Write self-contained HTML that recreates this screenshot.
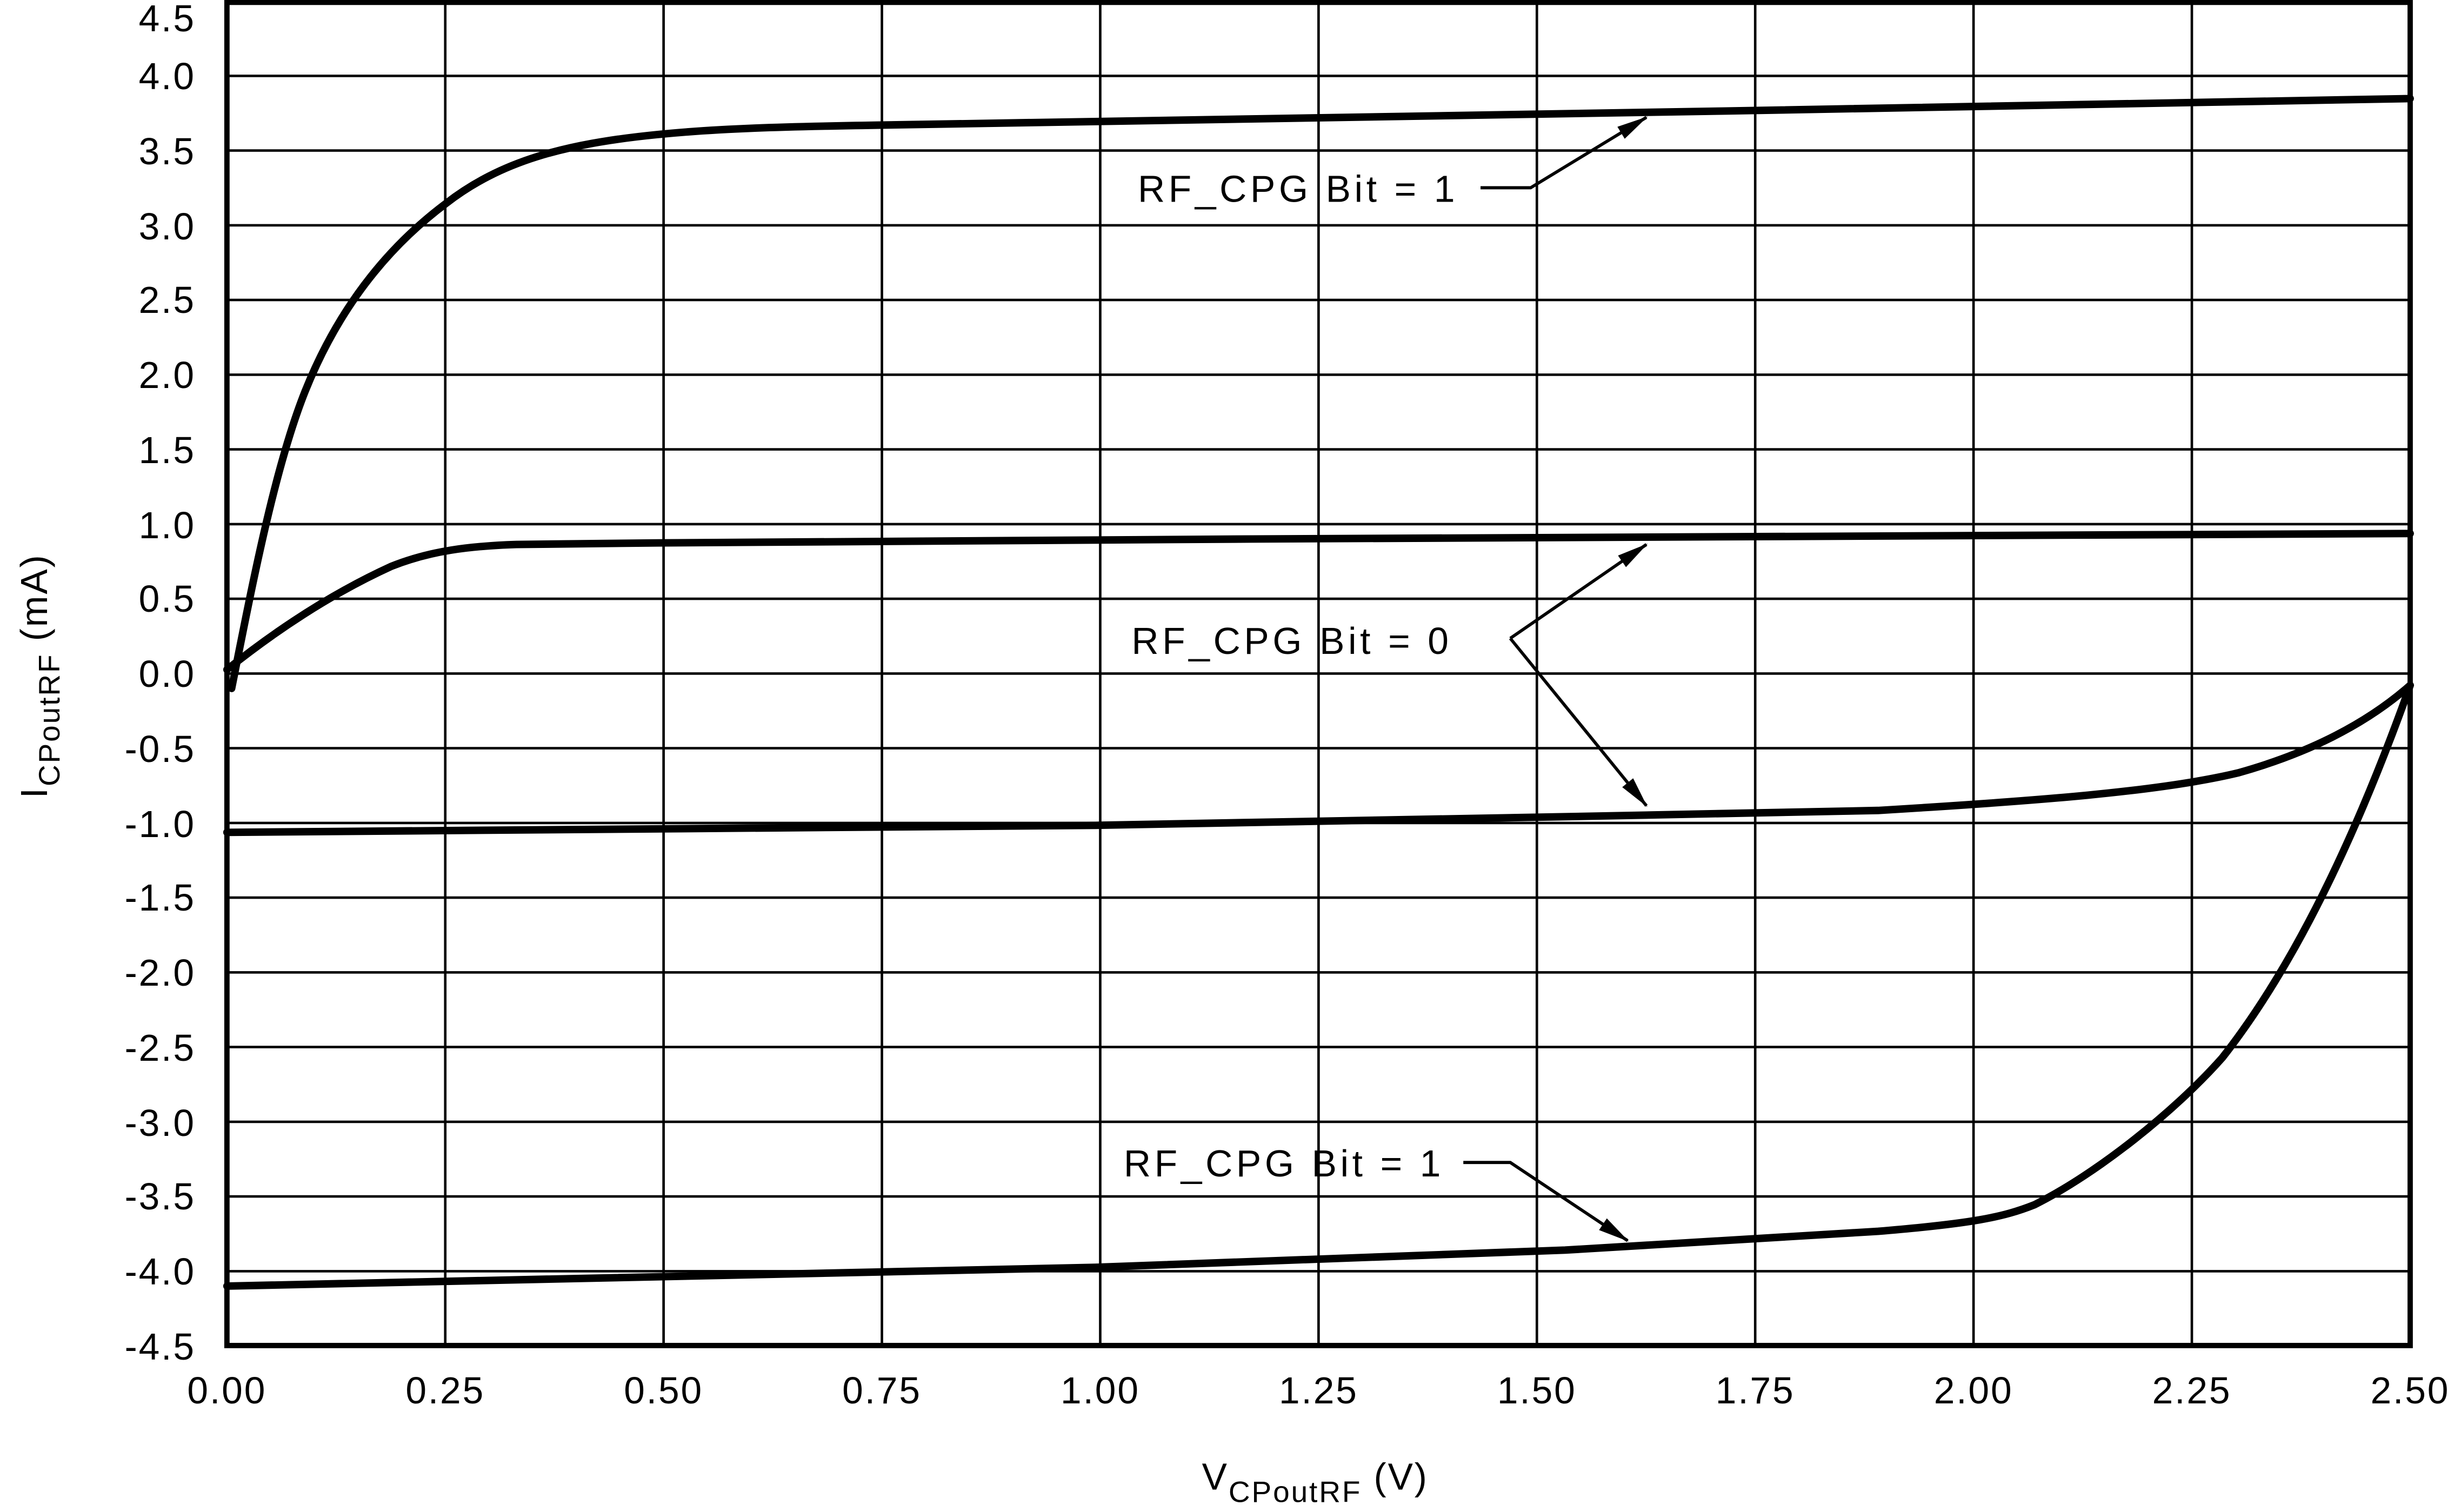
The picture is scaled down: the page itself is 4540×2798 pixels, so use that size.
<!DOCTYPE html>
<html><head><meta charset="utf-8"><style>
html,body{margin:0;padding:0;background:#fff;}
svg{display:block;}
text{font-family:"Liberation Sans",sans-serif;fill:#000;}
</style></head><body>
<svg width="4540" height="2798" viewBox="0 0 1568 966.4" preserveAspectRatio="none" xmlns="http://www.w3.org/2000/svg">
<defs>
<marker id="a2" viewBox="0 0 20 10" refX="19" refY="5" markerWidth="20" markerHeight="10" orient="auto" markerUnits="userSpaceOnUse"><path d="M0,0.5 L20,5 L0,9.5 z" fill="#000"/></marker></defs>
<g stroke="#000" stroke-width="1.6">
<line x1="145" y1="48.5" x2="1540" y2="48.5"/><line x1="145" y1="96.2" x2="1540" y2="96.2"/><line x1="145" y1="144" x2="1540" y2="144"/><line x1="145" y1="191.7" x2="1540" y2="191.7"/><line x1="145" y1="239.5" x2="1540" y2="239.5"/><line x1="145" y1="287.2" x2="1540" y2="287.2"/><line x1="145" y1="335" x2="1540" y2="335"/><line x1="145" y1="382.7" x2="1540" y2="382.7"/><line x1="145" y1="430.5" x2="1540" y2="430.5"/><line x1="145" y1="478.2" x2="1540" y2="478.2"/><line x1="145" y1="526" x2="1540" y2="526"/><line x1="145" y1="573.7" x2="1540" y2="573.7"/><line x1="145" y1="621.5" x2="1540" y2="621.5"/><line x1="145" y1="669.2" x2="1540" y2="669.2"/><line x1="145" y1="717" x2="1540" y2="717"/><line x1="145" y1="764.7" x2="1540" y2="764.7"/><line x1="145" y1="812.5" x2="1540" y2="812.5"/>
<line x1="284.5" y1="1" x2="284.5" y2="860"/><line x1="424" y1="1" x2="424" y2="860"/><line x1="563.5" y1="1" x2="563.5" y2="860"/><line x1="703" y1="1" x2="703" y2="860"/><line x1="842.5" y1="1" x2="842.5" y2="860"/><line x1="982" y1="1" x2="982" y2="860"/><line x1="1121.5" y1="1" x2="1121.5" y2="860"/><line x1="1261" y1="1" x2="1261" y2="860"/><line x1="1400.5" y1="1" x2="1400.5" y2="860"/>
</g>
<rect x="145" y="1.5" width="1395" height="858.5" fill="none" stroke="#000" stroke-width="3.4"/>
<g fill="none" stroke="#000" stroke-width="4.8" stroke-linejoin="round" stroke-linecap="round">
<path d="M148,440 C160,380 175,300 195,250 C215,200 245,160 285,130 C320,103 360,92 420,86 C460,82 500,81 560,80 L800,76 L1100,71 L1540,63"/>
<path d="M145,428 C180,400 215,378 250,362 C275,352 300,349 330,348 L420,347 L800,344.5 L1540,341"/>
<path d="M145,532 L700,527.5 L1000,522 L1200,518 C1300,512 1380,506 1430,494 C1480,480 1515,460 1540,438"/>
<path d="M145,822 L700,810 L1000,799 L1200,787 C1260,782 1280,778 1300,770 C1340,750 1390,710 1420,676 C1460,625 1500,550 1540,438"/>
</g>
<g stroke="#000" stroke-width="2" fill="none">
<polyline points="946,120 978,120 1052,75" marker-end="url(#a2)"/>
<line x1="965" y1="408" x2="1052" y2="348" marker-end="url(#a2)"/>
<line x1="965" y1="408" x2="1052" y2="515" marker-end="url(#a2)"/>
<polyline points="935,743 965,743 1040,793" marker-end="url(#a2)"/>
</g>
<g font-size="24" letter-spacing="2.3">
<text x="727" y="129">RF_CPG Bit = 1</text>
<text x="723" y="418">RF_CPG Bit = 0</text>
<text x="718" y="752">RF_CPG Bit = 1</text>
</g>
<g font-size="24" text-anchor="end" letter-spacing="1">
<text x="125" y="20">4.5</text><text x="125" y="57">4.0</text><text x="125" y="105">3.5</text><text x="125" y="153">3.0</text><text x="125" y="200">2.5</text><text x="125" y="248">2.0</text><text x="125" y="296">1.5</text><text x="125" y="344">1.0</text><text x="125" y="391">0.5</text><text x="125" y="439">0.0</text><text x="125" y="487">-0.5</text><text x="125" y="535">-1.0</text><text x="125" y="582">-1.5</text><text x="125" y="630">-2.0</text><text x="125" y="678">-2.5</text><text x="125" y="726">-3.0</text><text x="125" y="773">-3.5</text><text x="125" y="821">-4.0</text><text x="125" y="869">-4.5</text>
</g>
<g font-size="24" text-anchor="middle" letter-spacing="1">
<text x="145" y="897">0.00</text><text x="284.5" y="897">0.25</text><text x="424" y="897">0.50</text><text x="563.5" y="897">0.75</text><text x="703" y="897">1.00</text><text x="842.5" y="897">1.25</text><text x="982" y="897">1.50</text><text x="1121.5" y="897">1.75</text><text x="1261" y="897">2.00</text><text x="1400.5" y="897">2.25</text><text x="1540" y="897">2.50</text>
</g>
<text x="768" y="952" font-size="24" letter-spacing="1">V<tspan font-size="19" dy="8">CPoutRF</tspan><tspan dy="-8"> (V)</tspan></text>
<text transform="translate(30,432) rotate(-90)" text-anchor="middle" font-size="24" letter-spacing="1">I<tspan font-size="19" dy="8">CPoutRF</tspan><tspan dy="-8"> (mA)</tspan></text>
</svg>
</body></html>
